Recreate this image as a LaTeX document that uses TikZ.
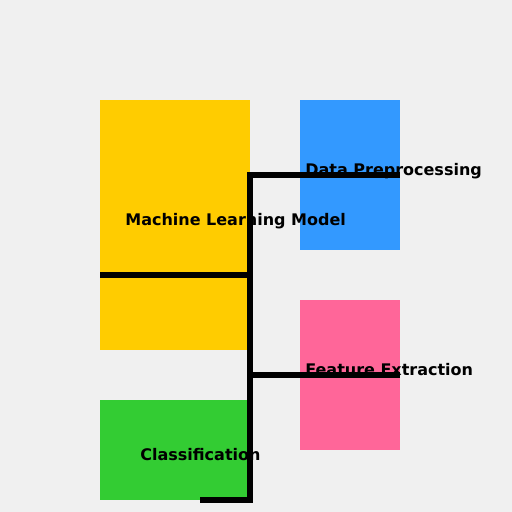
\documentclass[tikz,border=0pt]{standalone}
\usepackage{fontspec}
\setmainfont{DejaVu Sans}
\usetikzlibrary{calc}

\begin{document}
\begin{tikzpicture}[x=0.02cm,y=-0.02cm,
  block/.style={rectangle,inner sep=0pt,outer sep=0pt},
  label/.style={anchor=base west,inner sep=0pt,font=\fontsize{9.1}{10}\selectfont\bfseries},
  link/.style={line width=2.9pt,black,line join=miter}]
\definecolor{bg}{HTML}{F0F0F0}
\definecolor{mlyellow}{HTML}{FFCC00}
\definecolor{dpblue}{HTML}{3399FF}
\definecolor{fepink}{HTML}{FF6699}
\definecolor{clgreen}{HTML}{33CC33}
\fill[bg] (0,0) rectangle (512,512);
\useasboundingbox (0,0) rectangle (512,512);

\draw node [block,fill=mlyellow,minimum width=3cm,minimum height=5cm] at (175,225) (ml){};
\draw node [block,fill=dpblue,minimum width=2cm,minimum height=3cm] at (350,175) (dp){};
\draw node [block,fill=fepink,minimum width=2cm,minimum height=3cm] at (350,375) (fe){};
\draw node [block,fill=clgreen,minimum width=3cm,minimum height=2cm] at (175,450) (cl){};

\coordinate (mlout) at ($ (ml.west) + (0,50) $);
\coordinate (tail) at ($ (cl.south) + (25,0) $);

\draw[link] (mlout) -- (mlout -| ml.east);
\draw[link] (dp.east) -- (dp.east -| ml.east) -- (cl.south east) -- (tail);
\draw[link] (fe.east -| ml.east) -- (fe.east);

\draw node [label] at ($ (ml.west) + (25,0.5) $) (mltext){Machine Learning Model};
\draw node [label] at ($ (dp.west) + (5,0.5) $) (dptext){Data Preprocessing};
\draw node [label] at ($ (fe.west) + (5,0.5) $) (fetext){Feature Extraction};
\draw node [label] at ($ (cl.west) + (40,10) $) (cltext){Classification};

\end{tikzpicture}
\end{document}
